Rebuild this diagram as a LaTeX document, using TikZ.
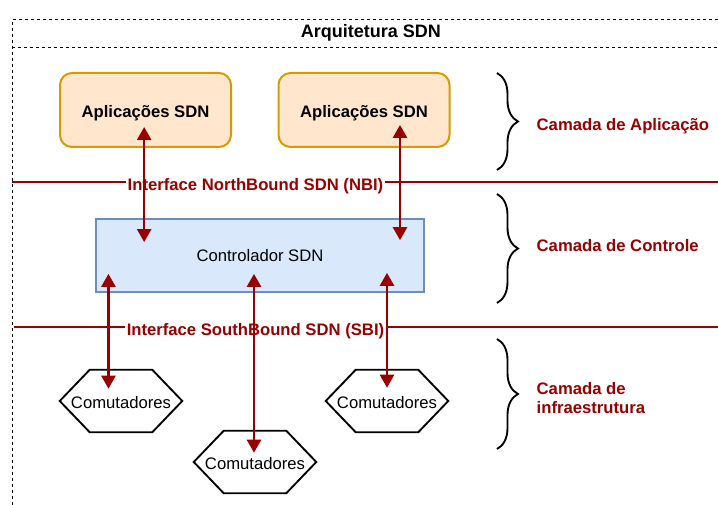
\documentclass[tikz,border=0pt]{standalone}
\usepackage{fontspec}
\setmainfont{Liberation Sans}
\usetikzlibrary{arrows.meta,decorations.pathreplacing}
\definecolor{sdnred}{HTML}{990000}
\definecolor{appfill}{HTML}{FFE6CC}
\definecolor{appdraw}{HTML}{D79B00}
\definecolor{ctrlfill}{HTML}{DAE8FC}
\definecolor{ctrldraw}{HTML}{6C8EBF}
\tikzset{
  txt/.style={text height=9pt,text depth=0pt,font=\fontsize{12.5}{15}\selectfont},
  appbox/.style={txt,text height=11.5pt,draw=appdraw,fill=appfill,line width=1.5pt,rounded corners=9pt,
    minimum width=128.25pt,minimum height=55.5pt,font=\fontsize{12.5}{15}\selectfont\bfseries},
  ctrlbox/.style={txt,draw=ctrldraw,fill=ctrlfill,line width=1.3pt,minimum width=246pt,minimum height=54.75pt},
  hexbox/.style={txt,text height=11.5pt,inner sep=0pt,minimum width=91.5pt,minimum height=46.5pt},
  hexline/.style={draw=black,line width=1.4pt},
  iface/.style={txt,fill=white,text=sdnred,inner sep=1.5pt,font=\fontsize{12.5}{15}\selectfont\bfseries},
  ifline/.style={draw=sdnred,line width=1.6pt},
  camada/.style={anchor=west,text=sdnred,align=left,font=\fontsize{12.5}{14.25}\selectfont\bfseries},
  chave/.style={draw=black,line width=1.4pt,decorate,decoration={brace,amplitude=15.75pt}},
  biarrow/.style={draw=sdnred,line width=1.9pt,{Triangle[width=10.5pt,length=9.75pt]}-{Triangle[width=10.5pt,length=9.75pt]}},
  borda/.style={draw=black,line width=0.75pt,dash pattern=on 2.5pt off 2pt}
}
\begin{document}
\begin{tikzpicture}[x=0.75pt,y=-0.75pt]
  \useasboundingbox (0,0) rectangle (718,505);
  % moldura tracejada
  \draw[borda] (12,505) -- (12,20) -- (718,20);
  \draw[borda] (12,48) -- (718,48);
  \node[txt,font=\fontsize{13.5}{16}\selectfont\bfseries] (titulo) at (371,32) {Arquitetura SDN};
  % interfaces
  \draw[ifline] (12,182) -- (718,182);
  \draw[ifline] (14,327) -- (718,327);
  \node[iface] (nbi) at (255.5,185) {Interface NorthBound SDN (NBI)};
  \node[iface] (sbi) at (255.5,330) {Interface SouthBound SDN (SBI)};
  % camadas
  \node[appbox] (app1) at (145.5,110) {Aplicações SDN};
  \node[appbox] (app2) at (364,110) {Aplicações SDN};
  \node[ctrlbox] (ctrl) at (260,255.5) {Controlador SDN};
  \node[hexbox] (h1) at (121,401) {Comutadores};
  \node[hexbox] (h2) at (255,462) {Comutadores};
  \node[hexbox] (h3) at (387,401) {Comutadores};
  \foreach \h in {h1,h2,h3}
    \draw[hexline] (\h.west) -- ([xshift=22.5pt]\h.north west) -- ([xshift=-22.5pt]\h.north east)
      -- (\h.east) -- ([xshift=-22.5pt]\h.south east) -- ([xshift=22.5pt]\h.south west) -- cycle;
  % conexoes
  \draw[biarrow] ([xshift=-1pt,yshift=15.75pt]app1.south) -- ([xshift=-1pt,yshift=-18pt]app1.south |- ctrl.north);
  \draw[biarrow] ([xshift=27pt,yshift=17.25pt]app2.south) -- ([xshift=27pt,yshift=-16.5pt]app2.south |- ctrl.north);
  \draw[biarrow] ([xshift=-9.4pt,yshift=14.25pt]h1.north |- ctrl.south) -- ([xshift=-9.4pt,yshift=-14.25pt]h1.north);
  \draw[biarrow] ([xshift=-0.75pt,yshift=14.25pt]h2.north |- ctrl.south) -- ([xshift=-0.75pt,yshift=-16.5pt]h2.north);
  \draw[biarrow] ([yshift=15pt]h3.north |- ctrl.south) -- ([yshift=-13.5pt]h3.north);
  % chaves
  \draw[chave] (497,73) -- (497,170);
  \draw[chave] (497,194) -- (497,303);
  \draw[chave] (497,339) -- (497,449);
  \node[camada,text height=9pt,text depth=0pt] (cam1) at (532,125) {Camada de Aplicação};
  \node[camada,text height=9pt,text depth=0pt] (cam2) at (532,246) {Camada de Controle};
  \node[camada] (cam3) at (532,398) {Camada de\\infraestrutura};
\end{tikzpicture}
\end{document}
